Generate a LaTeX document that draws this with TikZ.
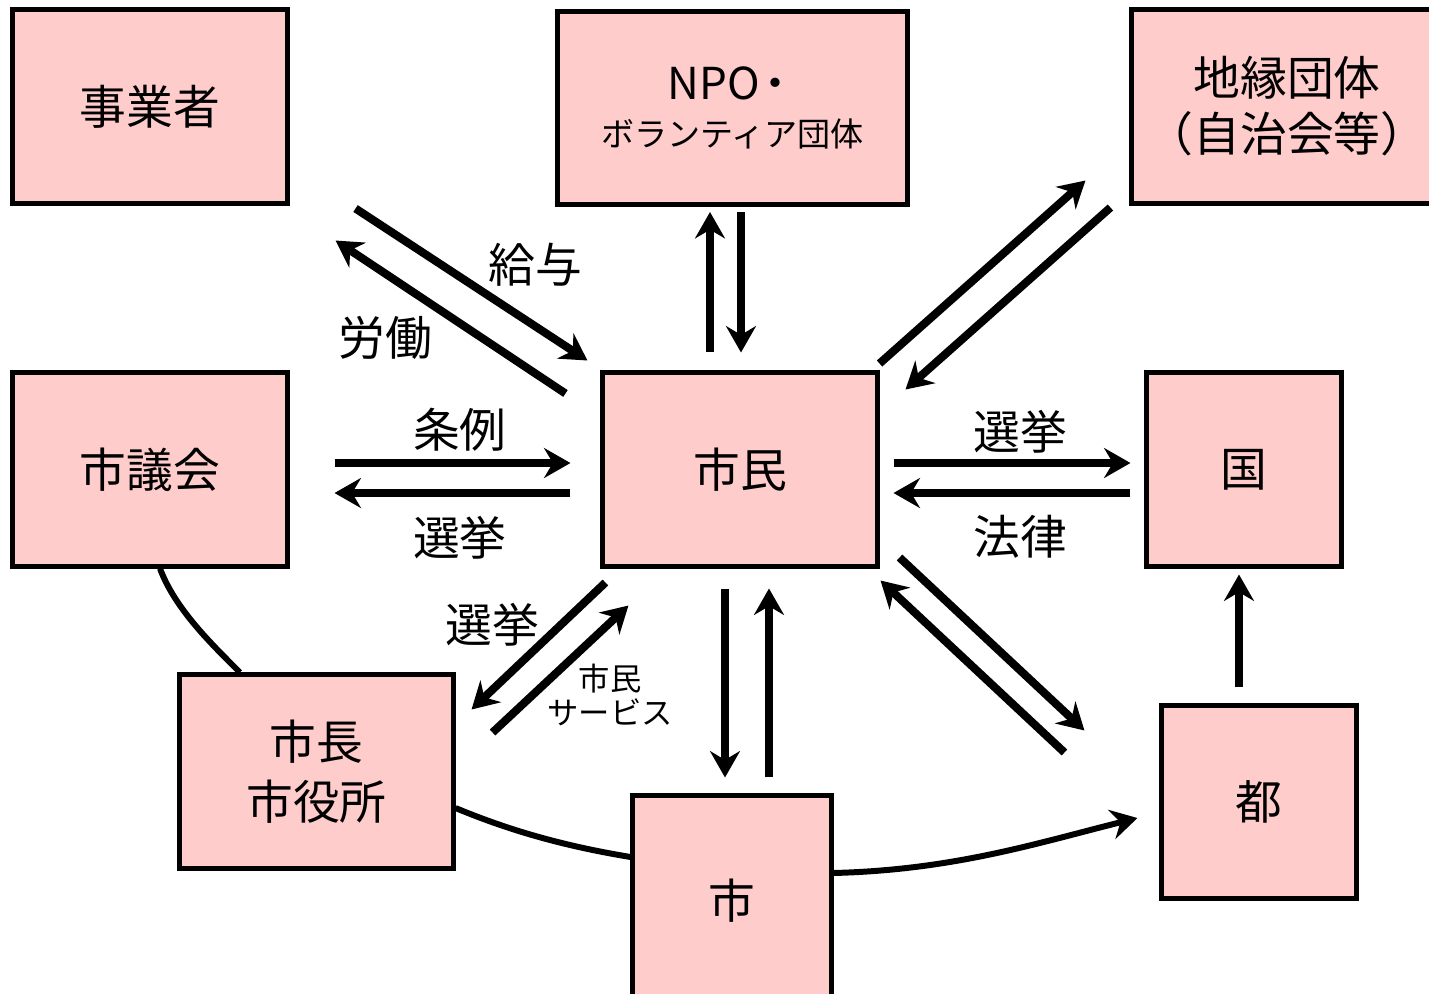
\documentclass[tikz,border=0pt]{standalone}
\usepackage{fontspec}
\setmainfont{Noto Sans CJK JP}
\usepackage{tikz}
\usetikzlibrary{positioning}
\usetikzlibrary{arrows.meta}
\definecolor{boxpink}{HTML}{FFCCCC}
\tikzset{
    relation diagram/.style={
            x=0.01cm,y=-0.01cm,
            box/.style={draw,fill=boxpink,line width=1.4pt,inner sep=0pt,
                minimum height=1.93cm,align=center,
                font=\fontsize{13.3pt}{16pt}\selectfont},
            lbl/.style={inner sep=0pt,font=\fontsize{13.3pt}{16pt}\selectfont},
            arrow/.style={-{Stealth[length=7.5pt,width=8.5pt,inset=2.5pt]},line width=2.3pt},
            link/.style={line width=1.7pt}
        }
    }
\begin{document}
\begin{tikzpicture}[relation diagram]
        \clip (0,0) rectangle (1429,993);
        \node[box, minimum width=2.74cm] (jigyo) at (150,106.5) {事業者};
        \node[box, minimum width=3.49cm] (npo) at (732.5,108)
            {{\fontsize{12.5pt}{14pt}\selectfont NPO\kern-2pt・}\\[-2.5pt]{\fontsize{9.4pt}{11pt}\selectfont ボランティア団体}};
        \node[box, minimum width=3.10cm, font=\fontsize{13.3pt}{15.9pt}\selectfont] (chien) at (1287,106.5) {地縁団体\\（自治会等）};
        \node[box, minimum width=2.74cm] (gikai) at (150,469.5) {市議会};
        \node[box, minimum width=2.74cm] (shimin) at (740,469.5) {市民};
        \node[box, minimum width=1.94cm] (kuni) at (1244,469.5) {国};
        \node[box, minimum width=2.73cm, font=\fontsize{13.3pt}{17pt}\selectfont] (shicho) at (316.5,771.5) {市長\\市役所};
        \node[box, minimum width=1.98cm, minimum height=2.10cm] (shi) at (732,901) {市};
        \node[box, minimum width=1.94cm, minimum height=1.92cm] (to) at (1259,802) {都};

        % 事業者
        \draw [arrow] ([shift={(66,3)}]jigyo.south east) -- ([shift={(-13,-10)}]shimin.north west);
        \draw [arrow] ([shift={(-35,23)}]shimin.north west) -- ([shift={(46,35)}]jigyo.south east);
        \node[lbl] (kyuyo) at (535,265) {給与};
        \node[lbl] (rodo) at (385,338) {労働};

        % NPO
        \draw [arrow] ([shift={(-30,-18)}]shimin.north) -- ([shift={(-22.5,5)}]npo.south);
        \draw [arrow] ([shift={(8.5,5)}]npo.south) -- ([shift={(1,-18)}]shimin.north);

        % 地縁団体
        \draw [arrow] ([shift={(0,-7)}]shimin.north east) -- ([shift={(-44,-25)}]chien.south west);
        \draw [arrow] ([shift={(-19,2)}]chien.south west) -- ([shift={(26,19)}]shimin.north east);

        % 市議会
        \draw [arrow] ([shift={(45,-6.5)}]gikai.east) -- ([shift={(-30,-6.5)}]shimin.west);
        \draw [arrow] ([shift={(-30,23.5)}]shimin.west) -- ([shift={(45,23.5)}]gikai.east);
        \node[lbl] (jorei) at (460,430) {条例};
        \node[lbl] (senkyoG) at (460,538) {選挙};

        % 国
        \draw [arrow] ([shift={(14,-6.5)}]shimin.east) -- ([shift={(-14,-6.5)}]kuni.west);
        \draw [arrow] ([shift={(-14,23.5)}]kuni.west) -- ([shift={(14,23.5)}]shimin.east);
        \node[lbl] (senkyoK) at (1020,432) {選挙};
        \node[lbl] (horitsu) at (1020,537) {法律};

        % 市長・市役所
        \draw [arrow] ([shift={(5,14)}]shimin.south west) -- ([shift={(16,37)}]shicho.north east);
        \draw [arrow] ([shift={(37,60)}]shicho.north east) -- ([shift={(28,37)}]shimin.south west);
        \node[lbl] (senkyoS) at (492,625) {選挙};
        \node[lbl, align=center, font=\fontsize{8.9pt}{9.7pt}\selectfont] (service) at (610,695) {市民\\サービス};

        % 市
        \draw [arrow] ([shift={(-15,20)}]shimin.south) -- ([shift={(-7,-16)}]shi.north);
        \draw [arrow] ([shift={(37,-16)}]shi.north) -- ([shift={(29,20)}]shimin.south);

        % 都
        \draw [arrow] ([shift={(20,-11)}]shimin.south east) -- ([shift={(-75,27)}]to.north west);
        \draw [arrow] ([shift={(-95,49)}]to.north west) -- ([shift={(1,12)}]shimin.south east);
        \draw [arrow] ([shift={(-20,-16)}]to.north) -- ([shift={(-5,6)}]kuni.south);

        % curves
        \draw [link] ([shift={(10,0)}]gikai.south) .. controls +(15,40) and +(-30,-30) .. ([shift={(-76.5,0)}]shicho.north);
        \draw [link] ([shift={(0,36.5)}]shicho.east) .. controls +(60,25) and +(-60,-10) .. ([shift={(0,-44)}]shi.west);
        \draw [link, arrow, line width=1.7pt] ([shift={(0,-28)}]shi.east) .. controls +(120,-3) and +(-100,25) .. ([shift={(-22,16)}]to.west);
    \end{tikzpicture}
\end{document}
